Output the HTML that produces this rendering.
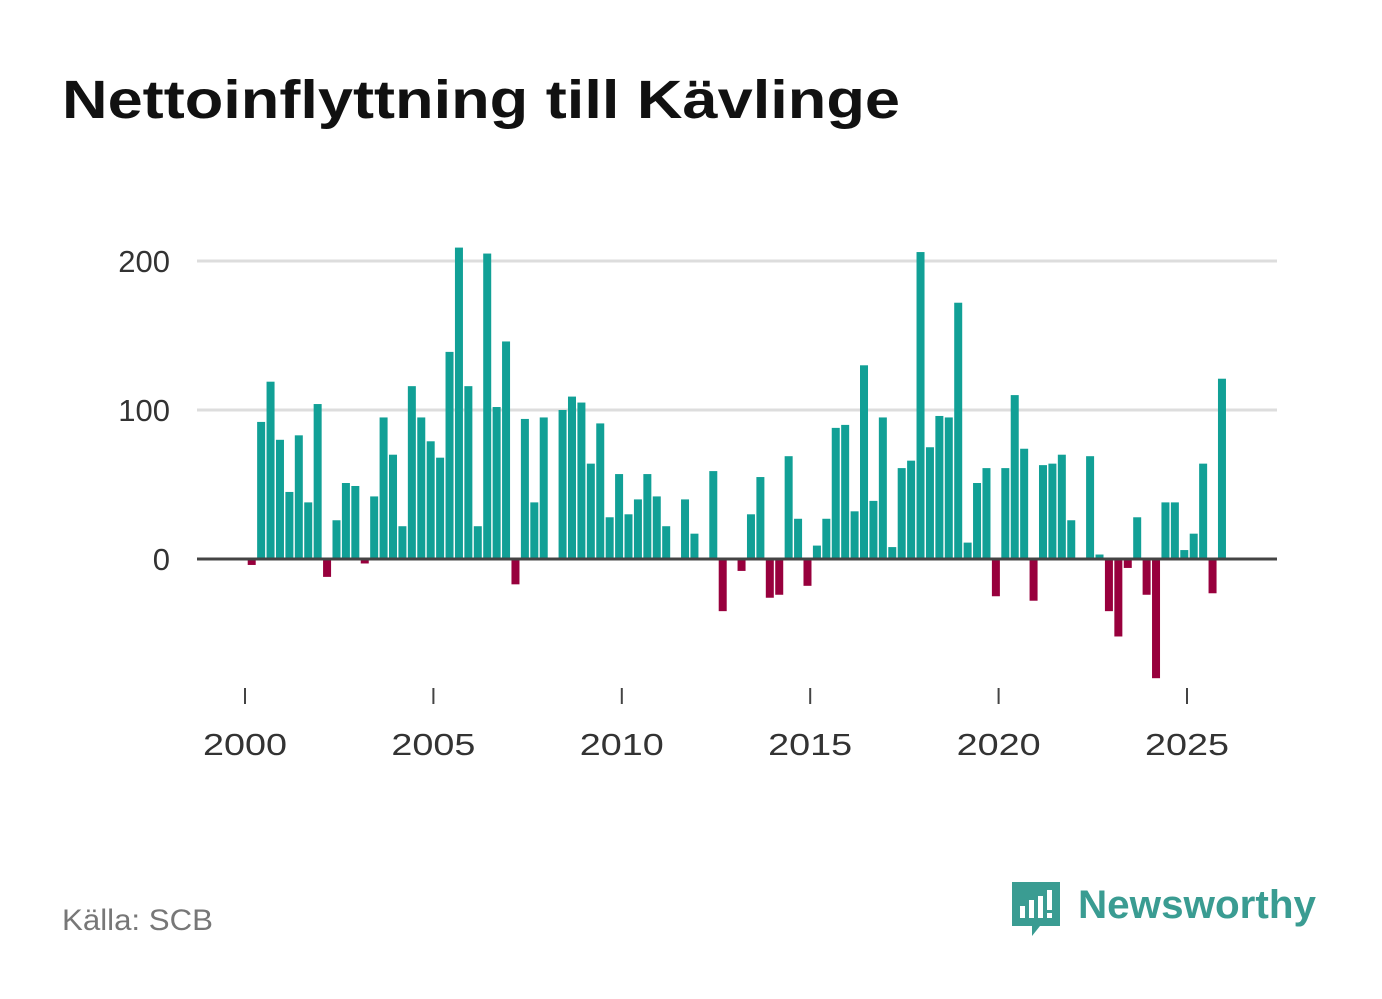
<!DOCTYPE html>
<html><head><meta charset="utf-8">
<style>
body{margin:0;background:#fff;font-family:"Liberation Sans",sans-serif;}
#wrap{position:relative;width:1382px;height:999px;overflow:hidden;}
</style></head>
<body>
<div id="wrap">
<svg id="chart" width="1382" height="999" xmlns="http://www.w3.org/2000/svg">
<text x="62" y="118" font-size="54" font-weight="bold" fill="#111" textLength="838" lengthAdjust="spacingAndGlyphs">Nettoinflyttning till Kävlinge</text>
<g id="grid"></g>
<g id="bars"></g>
<g id="xaxis"></g>
<text x="62" y="930" font-size="30" fill="#777" textLength="151" lengthAdjust="spacingAndGlyphs">Källa: SCB</text>
<g>
<path d="M1012 882 h48 v44 h-20 l-8 10 v-10 h-20 z" fill="#3a9c92"/>
<rect x="1020" y="906" width="5" height="12" fill="#fff"/>
<rect x="1029" y="900" width="5" height="18" fill="#fff"/>
<rect x="1038" y="896" width="5" height="22" fill="#fff"/>
<rect x="1047" y="890" width="5" height="20" fill="#fff"/>
<rect x="1047" y="913" width="5" height="5" fill="#fff"/>
<text x="1078" y="918" font-size="40" font-weight="bold" fill="#3a9c92" textLength="238" lengthAdjust="spacingAndGlyphs">Newsworthy</text>
</g>
</svg>
</div>
<script>
const startYear = 2000;
const values = [-4,92,119,80,45,83,38,104,-12,26,51,49,-3,42,95,70,22,116,95,79,68,139,209,116,22,205,102,146,-17,94,38,95,0,100,109,105,64,91,28,57,30,40,57,42,22,0,40,17,0,59,-35,0,-8,30,55,-26,-24,69,27,-18,9,27,88,90,32,130,39,95,8,61,66,206,75,96,95,172,11,51,61,-25,61,110,74,-28,63,64,70,26,0,69,3,-35,-52,-6,28,-24,-80,38,38,6,17,64,-23,121];
const yTicks = [0,100,200];
const xTicks = [2000,2005,2010,2015,2020,2025];
const NS="http://www.w3.org/2000/svg";
const y0=559, pxPerUnit=1.49;
const yScale=v=>y0-v*pxPerUnit;
const xYear=yr=>245+(yr-startYear)*37.68;
const xBar=i=>247+(i+0.5)*9.42;
function mk(tag,attrs,parent){const e=document.createElementNS(NS,tag);for(const k in attrs)e.setAttribute(k,attrs[k]);parent.appendChild(e);return e;}
const grid=document.getElementById('grid');
yTicks.forEach(t=>{
  if(t!==0){const l=mk('line',{x1:197,x2:1277,y1:yScale(t),y2:yScale(t),stroke:'#ddd','stroke-width':3},grid);
  
  }
  const tx=mk('text',{x:170,y:yScale(t)+11,'font-size':31,fill:'#333','text-anchor':'end'},grid);
  tx.textContent=t;
  
  
});
const bars=document.getElementById('bars');
values.forEach((v,i)=>{
  if(v===0)return;
  const top=v>0?yScale(v):y0, h=Math.abs(v)*pxPerUnit;
  const r=mk('rect',{x:xBar(i)-4,y:top,width:8,height:h,fill:v>0?'#11a096':'#98003d'},bars);
  
  
});
const xa=document.getElementById('xaxis');
const base=mk('line',{x1:197,x2:1277,y1:y0,y2:y0,stroke:'#444','stroke-width':3},xa);


xTicks.forEach(yr=>{
  const x=xYear(yr);
  const tk=mk('line',{x1:x,x2:x,y1:688,y2:704,stroke:'#444','stroke-width':2},xa);
  
  
  const tx=mk('text',{x:x,y:755,'font-size':31,fill:'#333','text-anchor':'middle',textLength:84,lengthAdjust:'spacingAndGlyphs'},xa);
  tx.textContent=yr;
  
  
});
</script>
</body></html>
